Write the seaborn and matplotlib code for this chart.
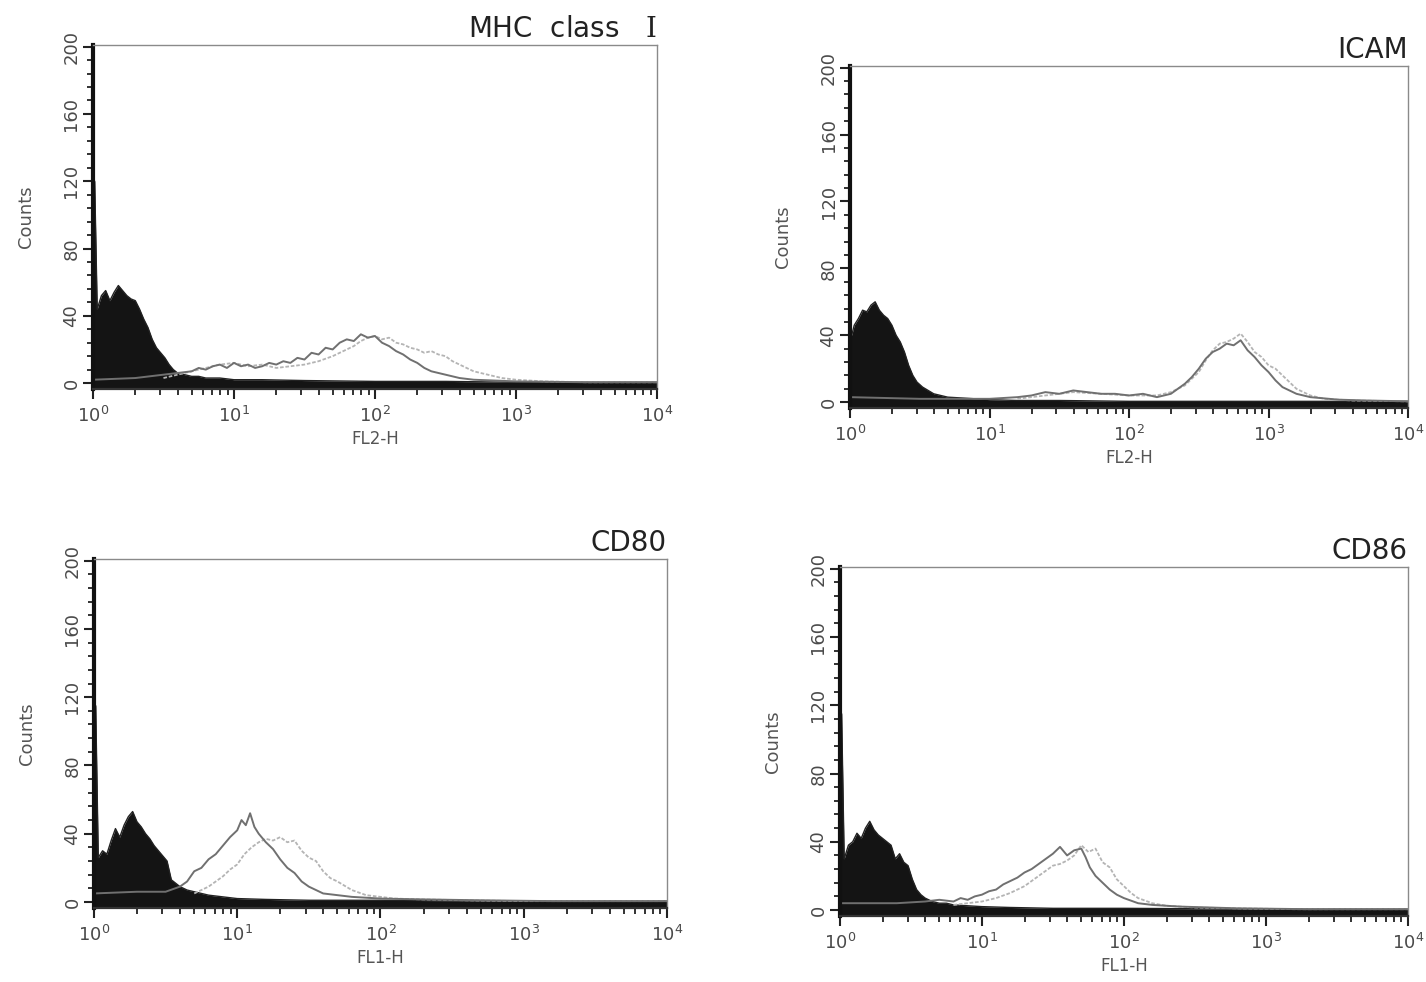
import numpy as np
import matplotlib
matplotlib.use('Agg')
import matplotlib.pyplot as plt
import matplotlib.ticker as mticker
import seaborn as sns

# ── Data (log10 channel position, counts) ──
titles  = [r'MHC  class   $\mathrm{I}$', 'ICAM', 'CD80', 'CD86']
xlabels = ['FL2-H', 'FL2-H', 'FL1-H', 'FL1-H']

# MHC class I
mhc_iso_pos = [0, 0.012, 0.03, 0.06, 0.09, 0.12, 0.15, 0.18, 0.21, 0.24, 0.27, 0.30,
               0.33, 0.36, 0.39, 0.42, 0.45, 0.48, 0.51, 0.54, 0.57, 0.60, 0.65, 0.70,
               0.75, 0.80, 0.90, 1.0, 1.2, 1.5, 2.0, 2.5, 3.0, 3.5, 4.0]
mhc_iso_cnt = [120, 120, 44, 52, 55, 49, 54, 58, 55, 52, 50, 49, 44, 38, 33, 26, 21,
               18, 15, 11, 8, 6, 5, 4, 4, 3, 3, 2, 2, 1.5, 1, 1, 0.5, 0.5, 0.5]
mhc_a_pos = [0.0, 0.3, 0.5, 0.6, 0.7, 0.75, 0.8, 0.85, 0.9, 0.95, 1.0, 1.05, 1.1, 1.15,
             1.2, 1.25, 1.3, 1.35, 1.4, 1.45, 1.5, 1.55, 1.6, 1.65, 1.7, 1.75, 1.8,
             1.85, 1.9, 1.95, 2.0, 2.05, 2.1, 2.15, 2.2, 2.25, 2.3, 2.35, 2.4, 2.5,
             2.6, 2.7, 2.85, 3.0, 3.5, 4.0]
mhc_a_cnt = [2, 3, 5, 6, 7, 9, 8, 10, 11, 9, 12, 10, 11, 9, 10, 12, 11, 13, 12, 15,
             14, 18, 17, 21, 20, 24, 26, 25, 29, 27, 28, 24, 22, 19, 17, 14, 12, 9, 7,
             5, 3, 2, 1.5, 1, 0.5, 0.5]
mhc_b_pos = [0.5, 0.6, 0.7, 0.8, 0.9, 1.0, 1.1, 1.2, 1.3, 1.4, 1.5, 1.6, 1.7, 1.8,
             1.85, 1.9, 1.95, 2.0, 2.05, 2.1, 2.15, 2.2, 2.25, 2.3, 2.35, 2.4, 2.45,
             2.5, 2.55, 2.6, 2.7, 2.8, 2.9, 3.0, 3.2, 3.5, 4.0]
mhc_b_cnt = [3, 5, 7, 9, 11, 12, 10, 11, 9, 10, 11, 13, 16, 20, 22, 25, 27, 28, 26,
             27, 24, 23, 21, 20, 18, 19, 17, 16, 13, 11, 7, 5, 3, 2, 1, 0.5, 0.5]

# ICAM
icam_iso_pos = [0, 0.012, 0.03, 0.06, 0.09, 0.12, 0.15, 0.18, 0.21, 0.24, 0.27, 0.30,
                0.33, 0.36, 0.39, 0.42, 0.45, 0.48, 0.52, 0.56, 0.6, 0.65, 0.7, 0.8,
                0.9, 1.0, 1.2, 1.5, 2.0, 3.0, 4.0]
icam_iso_cnt = [45, 40, 46, 50, 55, 54, 58, 60, 55, 52, 50, 46, 40, 36, 30, 22, 16,
                12, 9, 7, 5, 4, 3, 2.5, 2, 1.5, 1, 1, 0.5, 0.5, 0.5]
icam_a_pos = [0.0, 0.5, 1.0, 1.2, 1.3, 1.4, 1.5, 1.6, 1.7, 1.8, 1.9, 2.0, 2.1, 2.2,
              2.25, 2.3, 2.35, 2.4, 2.45, 2.5, 2.55, 2.6, 2.65, 2.7, 2.75, 2.8, 2.85,
              2.9, 2.95, 3.0, 3.05, 3.1, 3.2, 3.3, 3.5, 3.7, 4.0]
icam_a_cnt = [3, 2, 2, 3, 4, 6, 5, 7, 6, 5, 5, 4, 5, 3, 4, 5, 8, 11, 15, 20, 26, 30,
              32, 35, 34, 37, 31, 27, 22, 18, 13, 9, 5, 3, 1.5, 1, 0.5]
icam_b_pos = [1.2, 1.4, 1.6, 1.8, 2.0, 2.2, 2.3, 2.4, 2.5, 2.55, 2.6, 2.65, 2.7, 2.75,
              2.8, 2.85, 2.9, 2.95, 3.0, 3.05, 3.1, 3.15, 3.2, 3.3, 3.4, 3.6, 4.0]
icam_b_cnt = [2, 4, 6, 5, 4, 4, 6, 10, 18, 25, 31, 35, 36, 38, 41, 36, 30, 27, 22,
              20, 16, 12, 8, 4, 2, 1, 0.5]

# CD80
cd80_iso_pos = [0, 0.012, 0.03, 0.06, 0.09, 0.12, 0.15, 0.18, 0.21, 0.24, 0.27, 0.30,
                0.33, 0.36, 0.39, 0.42, 0.45, 0.48, 0.51, 0.54, 0.57, 0.6, 0.65, 0.7,
                0.75, 0.8, 0.9, 1.0, 1.2, 1.5, 2.0, 3.0, 4.0]
cd80_iso_cnt = [115, 115, 26, 30, 28, 36, 43, 38, 45, 50, 53, 47, 44, 40, 37, 33, 30,
                27, 24, 13, 11, 9, 7, 6, 5, 4, 3, 2, 1.5, 1, 1, 0.5, 0.5]
cd80_a_pos = [0.0, 0.3, 0.5, 0.6, 0.65, 0.7, 0.75, 0.8, 0.85, 0.9, 0.95, 1.0, 1.03,
              1.06, 1.09, 1.12, 1.15, 1.2, 1.25, 1.3, 1.35, 1.4, 1.45, 1.5, 1.55, 1.6,
              1.7, 1.8, 1.9, 2.0, 2.3, 2.7, 3.2, 4.0]
cd80_a_cnt = [5, 6, 6, 9, 12, 18, 20, 25, 28, 33, 38, 42, 48, 45, 52, 44, 40, 35, 31,
              25, 20, 17, 12, 9, 7, 5, 4, 3, 2.5, 2, 1.5, 1, 0.5, 0.5]
cd80_b_pos = [0.7, 0.8, 0.85, 0.9, 0.95, 1.0, 1.05, 1.1, 1.15, 1.2, 1.25, 1.3, 1.35,
              1.4, 1.45, 1.5, 1.55, 1.6, 1.65, 1.7, 1.8, 1.9, 2.0, 2.1, 2.3, 2.6, 3.0, 4.0]
cd80_b_cnt = [5, 9, 12, 15, 19, 22, 28, 32, 35, 37, 36, 38, 35, 36, 30, 26, 24, 18,
              14, 12, 7, 4, 3, 2, 1.5, 1, 0.5, 0.5]

# CD86
cd86_iso_pos = [0, 0.012, 0.03, 0.06, 0.09, 0.12, 0.15, 0.18, 0.21, 0.24, 0.27, 0.30,
                0.33, 0.36, 0.39, 0.42, 0.45, 0.48, 0.51, 0.54, 0.57, 0.6, 0.65, 0.7,
                0.75, 0.8, 0.9, 1.0, 1.2, 1.5, 2.0, 3.0, 4.0]
cd86_iso_cnt = [115, 115, 30, 38, 40, 45, 42, 48, 52, 47, 44, 42, 40, 38, 30, 33, 28,
                26, 18, 12, 9, 7, 5, 4, 4, 3, 2.5, 2, 1.5, 1, 1, 0.5, 0.5]
cd86_a_pos = [0.0, 0.4, 0.6, 0.7, 0.8, 0.85, 0.9, 0.95, 1.0, 1.05, 1.1, 1.15, 1.2,
              1.25, 1.3, 1.35, 1.4, 1.45, 1.5, 1.55, 1.6, 1.65, 1.7, 1.73, 1.76, 1.8,
              1.85, 1.9, 1.95, 2.0, 2.1, 2.2, 2.4, 2.8, 3.3, 4.0]
cd86_a_cnt = [4, 4, 5, 6, 5, 7, 6, 8, 9, 11, 12, 15, 17, 19, 22, 24, 27, 30, 33, 37,
              32, 35, 36, 31, 25, 20, 16, 12, 9, 7, 4, 3, 2, 1, 0.5, 0.5]
cd86_b_pos = [0.8, 0.9, 1.0, 1.1, 1.2, 1.3, 1.35, 1.4, 1.45, 1.5, 1.55, 1.6, 1.65,
              1.7, 1.75, 1.8, 1.85, 1.9, 1.95, 2.0, 2.05, 2.1, 2.2, 2.3, 2.5, 2.8, 3.2, 4.0]
cd86_b_cnt = [3, 4, 5, 7, 10, 14, 17, 20, 23, 26, 27, 29, 32, 38, 34, 36, 28, 25, 18,
              14, 10, 7, 4, 2.5, 1.5, 1, 0.5, 0.5]

y_ticks = [0, 40, 80, 120, 160, 200]
x_ticks = [1, 10, 100, 1000, 10000]

# ── Style ─────────────────────────────────────
sns.set_theme(style='ticks')
plt.rcParams['font.family'] = ['DejaVu Sans']
# serif roman numeral in the title, tick labels keep \mathdefault (sans)
plt.rcParams['mathtext.fontset'] = 'custom'
plt.rcParams['mathtext.rm'] = 'DejaVu Serif'

panels = [
    (mhc_iso_pos, mhc_iso_cnt, mhc_a_pos, mhc_a_cnt, mhc_b_pos, mhc_b_cnt),
    (icam_iso_pos, icam_iso_cnt, icam_a_pos, icam_a_cnt, icam_b_pos, icam_b_cnt),
    (cd80_iso_pos, cd80_iso_cnt, cd80_a_pos, cd80_a_cnt, cd80_b_pos, cd80_b_cnt),
    (cd86_iso_pos, cd86_iso_cnt, cd86_a_pos, cd86_a_cnt, cd86_b_pos, cd86_b_cnt),
]
# axes rectangles (figure fraction) matching the scanned layout
rects = [
    [0.0652, 0.6039, 0.3955, 0.3503],
    [0.5961, 0.5845, 0.3913, 0.3483],
    [0.0659, 0.0754, 0.4018, 0.3554],
    [0.5890, 0.0672, 0.3983, 0.3554],
]

fig = plt.figure(figsize=(14.26, 9.82), dpi=100)

for i, (iso_p, iso_c, a_p, a_c, b_p, b_c) in enumerate(panels):
    ax = fig.add_axes(rects[i])
    iso_x = 10 ** np.array(iso_p)
    ax.fill_between(iso_x, -5, iso_c, color='#141414', linewidth=0)
    sns.lineplot(x=iso_x, y=iso_c, ax=ax, color='#222222', linewidth=1.0,
                 sort=False, estimator=None)
    sns.lineplot(x=10 ** np.array(b_p), y=b_c, ax=ax, color='#b4b4b4',
                 linewidth=1.3, linestyle=(0, (2, 1)), sort=False, estimator=None)
    sns.lineplot(x=10 ** np.array(a_p), y=a_c, ax=ax, color='#707070',
                 linewidth=1.4, sort=False, estimator=None)

    ax.set_xscale('log')
    ax.set_xlim(1, 10000)
    ax.set_ylim(-3.5, 201)
    ax.set_xticks(x_ticks)
    ax.xaxis.set_major_formatter(mticker.LogFormatterMathtext())
    ax.xaxis.set_minor_locator(mticker.LogLocator(base=10, subs=np.arange(2, 10)))
    ax.xaxis.set_minor_formatter(mticker.NullFormatter())
    ax.set_yticks(y_ticks)
    ax.set_yticklabels([str(v) for v in y_ticks], rotation=90, va='center')
    ax.yaxis.set_minor_locator(mticker.MultipleLocator(8))

    ax.tick_params(axis='both', which='major', direction='out', length=7,
                   width=1.5, color='#222222', labelcolor='#4a4a4a')
    ax.tick_params(axis='both', which='minor', direction='out', length=4,
                   width=1.3, color='#222222')
    ax.tick_params(axis='x', which='major', labelsize=13, pad=5)
    ax.tick_params(axis='y', which='major', labelsize=13, pad=2)

    for side in ['top', 'right']:
        ax.spines[side].set_color('#8a8a8a')
        ax.spines[side].set_linewidth(1.0)
    ax.spines['left'].set_color('#111111')
    ax.spines['left'].set_linewidth(3.0)
    ax.spines['bottom'].set_color('#333333')
    ax.spines['bottom'].set_linewidth(1.6)

    ax.set_xlabel(xlabels[i], fontsize=12, color='#555555', labelpad=3)
    ax.set_ylabel('Counts', fontsize=13, color='#555555', labelpad=20)
    ax.set_title(titles[i], loc='right', fontsize=20, color='#222222', pad=6)

plt.savefig('out.png', dpi=100)
plt.close()
